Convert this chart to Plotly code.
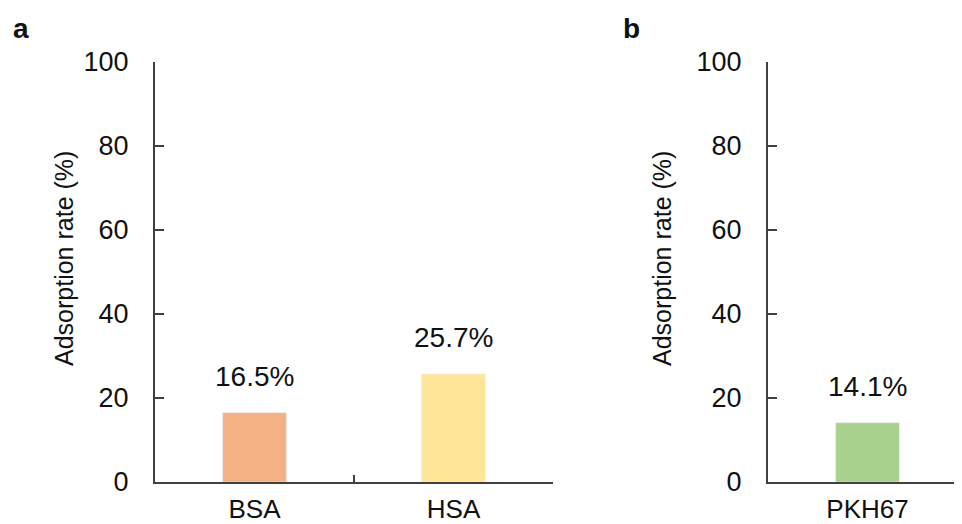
import plotly.graph_objects as go

# Data
cats_a = ["BSA", "HSA"]
vals_a = [16.5, 25.7]
labels_a = ["16.5%", "25.7%"]
colors_a = ["#F4B183", "#FFE699"]

cats_b = ["PKH67"]
vals_b = [14.1]
labels_b = ["14.1%"]
colors_b = ["#A9D18E"]

y_ticks = [0, 20, 40, 60, 80, 100]
y_title = "Adsorption rate (%)"

# page body has an 8px margin; size the figure to fill the rest of the window
OFF = 8
W, H = 962 - OFF, 524 - OFF
FONT = "Arial, 'Liberation Sans', sans-serif"
AX = "#404040"


def px(x):
    return (x - OFF) / W


def py(y):
    return (H - (y - OFF)) / H


fig = go.Figure()
fig.add_trace(go.Bar(x=cats_a, y=vals_a, marker_color=colors_a, width=0.32,
                     xaxis="x", yaxis="y", showlegend=False, hoverinfo="skip"))
fig.add_trace(go.Bar(x=cats_b, y=vals_b, marker_color=colors_b, width=0.32,
                     xaxis="x2", yaxis="y2", showlegend=False, hoverinfo="skip"))

ydom = [py(482), py(62)]
common_y = dict(range=[0, 100], tickvals=y_ticks, ticks="inside", ticklen=9,
                tickwidth=2, tickcolor=AX, showline=True, linecolor=AX, linewidth=2,
                showgrid=False, zeroline=False, domain=ydom, automargin=False,
                tickfont=dict(size=27, color="#111111", family=FONT),
                ticklabelstandoff=19)
common_x = dict(ticks="inside", ticklen=7, tickwidth=2, tickcolor=AX,
                tickson="boundaries", showline=True, linecolor=AX, linewidth=2,
                showgrid=False, zeroline=False, automargin=False,
                tickfont=dict(size=26, color="#111111", family=FONT),
                ticklabelstandoff=3)

fig.update_layout(
    width=W, height=H, margin=dict(l=0, r=0, t=0, b=0, autoexpand=False),
    paper_bgcolor="white", plot_bgcolor="white",
    font=dict(family=FONT, color="#111111"),
    xaxis=dict(domain=[px(155), px(553)], range=[-0.5, 1.5], anchor="y", **common_x),
    yaxis=dict(anchor="x", **common_y),
    xaxis2=dict(domain=[px(768), 1.0], range=[-0.5, 0.475], anchor="y2", **common_x),
    yaxis2=dict(anchor="x2", **common_y),
)

ann = []
for c, v, t in zip(cats_a, vals_a, labels_a):
    ann.append(dict(x=c, y=v, xref="x", yref="y", text=t, showarrow=False,
                    yanchor="bottom", yshift=19, font=dict(size=28, family=FONT, color="#111111")))
for c, v, t in zip(cats_b, vals_b, labels_b):
    ann.append(dict(x=c, y=v, xref="x2", yref="y2", text=t, showarrow=False,
                    yanchor="bottom", yshift=19, font=dict(size=28, family=FONT, color="#111111")))
# axis titles
for xc in (64, 662):
    ann.append(dict(x=px(xc), y=py(259), xref="paper", yref="paper", text=y_title,
                    textangle=-90, showarrow=False, xanchor="center", yanchor="middle",
                    font=dict(size=25, family=FONT, color="#111111")))
# panel letters
for xc, letter in ((21, "a"), (631, "b")):
    ann.append(dict(x=px(xc), y=py(29), xref="paper", yref="paper",
                    text="<b>" + letter + "</b>", showarrow=False,
                    xanchor="center", yanchor="middle",
                    font=dict(size=28, family=FONT, color="#111111")))
fig.update_layout(annotations=ann)

fig.write_html("out.html")
